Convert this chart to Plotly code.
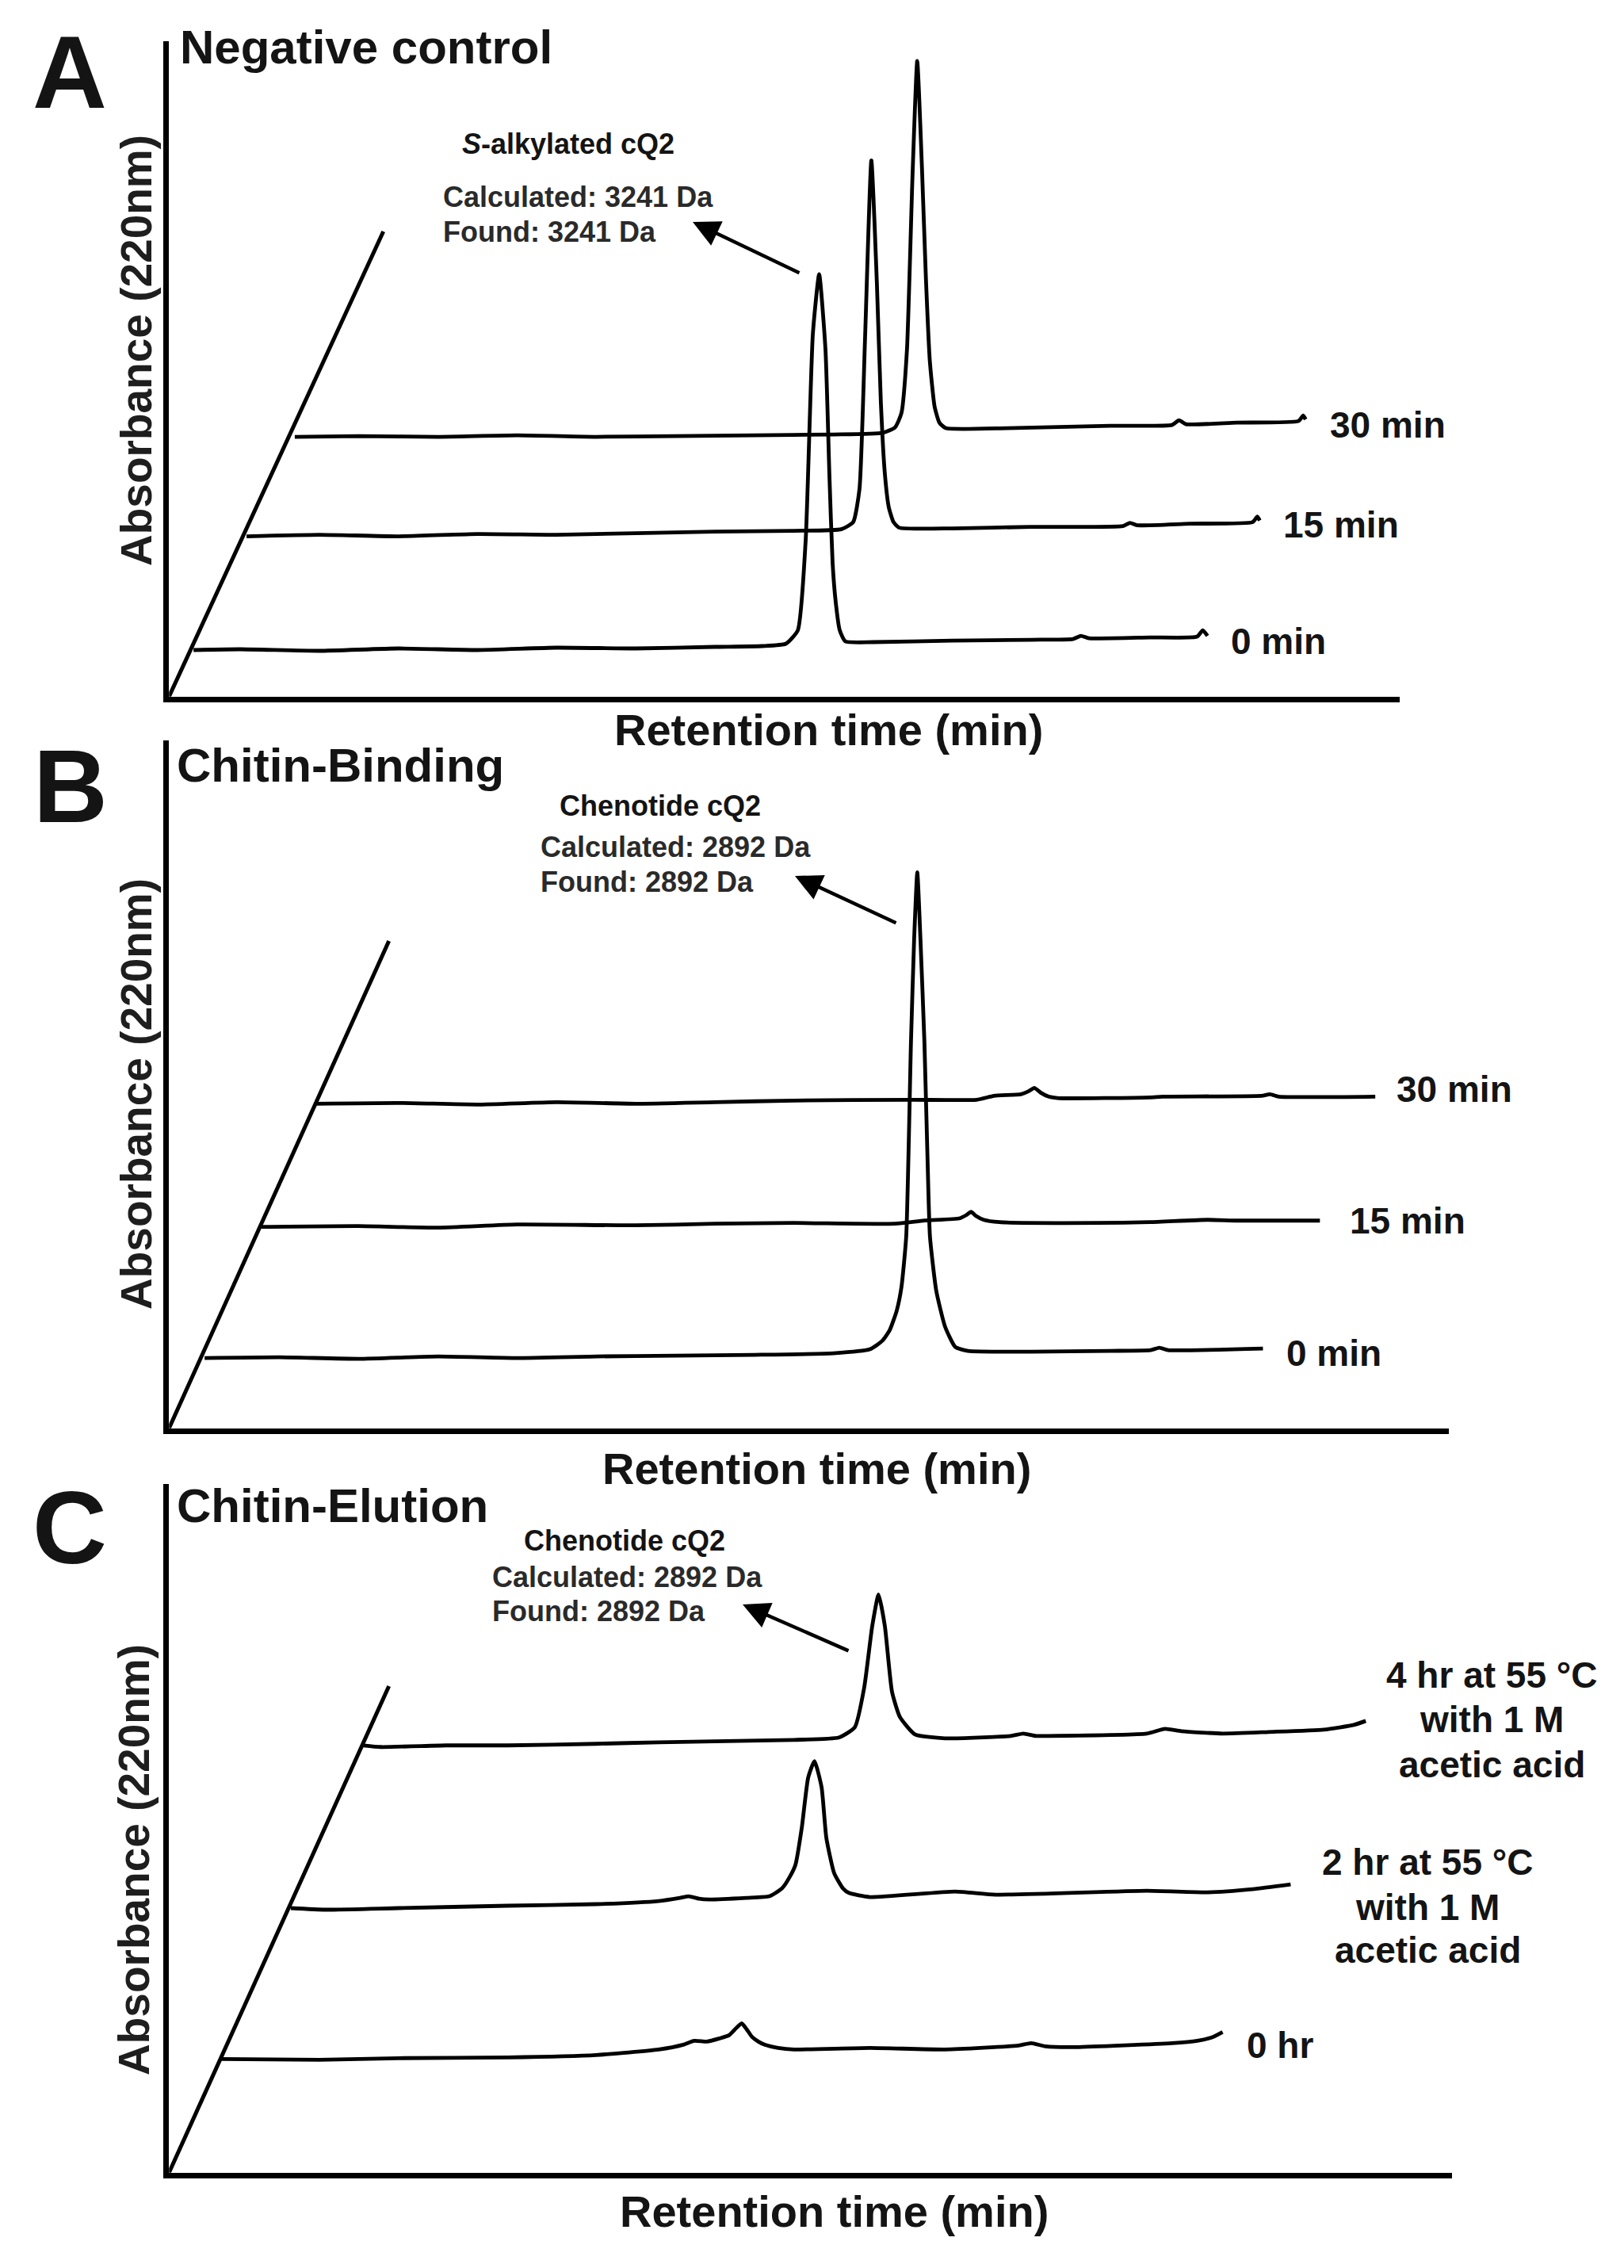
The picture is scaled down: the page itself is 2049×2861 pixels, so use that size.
import plotly.graph_objects as go

# ---------------- text ----------------
PANEL_LETTERS = ["A", "B", "C"]
PANEL_TITLES = ["Negative control", "Chitin-Binding", "Chitin-Elution"]
X_TITLE = "Retention time (min)"
Y_TITLE = "Absorbance (220nm)"
PEAK_NAMES = ["<i>S</i>-alkylated cQ2", "Chenotide cQ2", "Chenotide cQ2"]
CALC_MASS = ["Calculated: 3241 Da", "Calculated: 2892 Da", "Calculated: 2892 Da"]
FOUND_MASS = ["Found: 3241 Da", "Found: 2892 Da", "Found: 2892 Da"]
A_LABELS = [["0 min"], ["15 min"], ["30 min"]]
B_LABELS = [["0 min"], ["15 min"], ["30 min"]]
C_LABELS = [["0 hr"],
            ["2 hr at 55 °C", "with 1 M", "acetic acid"],
            ["4 hr at 55 °C", "with 1 M", "acetic acid"]]

# ---------------- data (retention time in min, absorbance in mAU) ----------------
A_RT_0 = [0, 2.95, 7.95, 12.95, 17.95, 22.95, 27.95, 32.95, 35.95, 37.45,
          38.2, 38.7, 39.15, 39.55, 39.95, 40.2, 40.4, 40.6, 40.85, 41.2,
          42.95, 47.95, 52.95, 55.6, 56.1, 56.6, 60.45, 63.45, 63.8, 64.1]
A_ABS_0 = [0, 0.5, -0.5, 1, 0, 1.5, 1, 2, 2.5, 4,
           12.5, 70, 200, 238, 190, 110, 55, 30, 12.5, 5.5,
           5, 6, 6.5, 7, 9, 7.5, 8, 8.5, 12.5, 9]
A_RT_15 = [0, 4.6, 9.6, 14.6, 19.6, 24.6, 29.6, 34.6, 37.6, 38.35,
           38.75, 39.1, 39.5, 39.85, 40.1, 40.35, 40.6, 40.9, 41.25, 44.6,
           49.6, 55.4, 55.85, 56.3, 59.6, 63.6, 63.9, 64.05]
A_ABS_15 = [0, 1, 0, 1.5, 1, 2, 3, 3.5, 4.5, 9,
            30, 125, 238, 160, 85, 40, 18.5, 9, 5.5, 5,
            6, 6.5, 8.5, 7, 8, 9, 12.5, 10]
A_RT_30 = [0, 4.05, 9.05, 14.05, 19.05, 24.05, 29.05, 34.05, 37.15, 37.95,
           38.35, 38.7, 39.05, 39.35, 39.65, 39.9, 40.15, 40.45, 40.75, 41.15,
           45.05, 51.55, 55.45, 55.9, 56.35, 59.55, 63.45, 63.75, 63.9]
A_ABS_30 = [0, 0.5, 0, 1, 0, 0.5, 1, 1.5, 2.5, 6,
            15, 55, 165, 238, 170, 100, 47.5, 19, 9, 5.5,
            5.5, 7, 7.5, 10.5, 8, 9, 10, 13.5, 11]

B_RT_0 = [0, 4.75, 9.75, 14.75, 19.75, 24.75, 29.75, 34.75, 39.75, 42.05,
          42.85, 43.3, 43.75, 44.05, 44.35, 44.65, 44.85, 45.05, 45.25, 45.5,
          45.7, 45.85, 46.25, 46.8, 47.45, 48.25, 52.25, 57.25, 59.8, 60.35,
          60.9, 66.9]
B_ABS_0 = [0, 0.5, -0.5, 1, 0, 1, 1.5, 2, 3, 5.5,
           11, 17.5, 30, 45, 77, 200, 265, 307.5, 265, 200,
           125, 77, 42.5, 20, 7, 4.5, 4, 4.5, 5, 6.5,
           5, 6]
B_RT_15 = [0, 6.15, 11.15, 16.15, 23.65, 28.65, 33.65, 40.05, 41.9, 44.15,
           44.55, 44.85, 45.15, 45.65, 46.65, 52.8, 56.15, 59.8, 61.65, 66.9]
B_ABS_15 = [0, 0.5, -0.5, 1.5, 1, 2, 2.5, 2, 4, 5.5,
            7.5, 9.5, 7, 4.5, 3, 2.5, 3, 4.5, 4, 4]
B_RT_30 = [0, 5.25, 10.25, 15.25, 20.25, 25.25, 30.25, 37.75, 41.8, 42.9,
           44.6, 45.1, 45.45, 45.85, 46.35, 47, 52.75, 53.55, 59.8, 60.35,
           60.9, 67]
B_ABS_30 = [0, 0.5, -0.5, 1, 0, 1, 2, 2.5, 2.5, 5,
            6, 8, 10, 7, 4.5, 3.5, 4, 4.5, 5, 6,
            4.5, 4.5]

C_RT_0 = [0, 6.2, 11.2, 18.1, 23.7, 27.65, 29.2, 29.9, 30.7, 31.5,
          32.1, 32.45, 32.9, 33.2, 33.55, 33.95, 34.35, 35.2, 36.2, 41,
          45.75, 50.4, 51.2, 52.1, 54.05, 60.1, 61.7, 62.7, 63.3]
C_ABS_0 = [0, -0.5, 0.5, 1, 2.5, 6, 9, 11.5, 11, 13,
           15, 18.5, 22.5, 19, 14, 11, 9, 7, 6, 7,
           6, 8.5, 10, 8, 7.5, 10, 11.5, 14, 17]
C_RT_2 = [0, 2.2, 6.8, 13.7, 19.3, 23.25, 24.6, 25.15, 25.8, 26.45,
          28.8, 30.25, 31.05, 31.55, 31.9, 32.3, 32.7, 33.1, 33.55, 33.85,
          34.35, 34.9, 35.3, 36.6, 42, 44.55, 54.1, 57.95, 60.8, 63.2]
C_ABS_2 = [0, -1, 0, 1.5, 2.5, 4.5, 6.5, 7.5, 6, 5.5,
           6.5, 7.5, 12.5, 20, 27.5, 51, 82.5, 93, 76.5, 44.5,
           22, 12.5, 9.5, 7, 10.5, 8.5, 11, 10, 12, 15]
C_RT_4 = [0, 1.1, 5.2, 9.1, 14.7, 18.65, 27.2, 30.05, 31.05, 31.65,
          32.15, 32.55, 32.95, 33.4, 33.9, 34.85, 36.75, 40.9, 41.7, 42.5,
          43.15, 49.5, 50.65, 51.7, 54.3, 57.2, 60.7, 62.6, 63.35]
C_ABS_4 = [0, -1, 0, 0, 1, 2, 3.5, 5, 11.5, 37,
           75.5, 95.5, 75.5, 34, 18, 7, 4.5, 6, 7.5, 6,
           6, 7.5, 10.5, 9, 7.5, 8.5, 10, 13, 15.5]

SERIES = [
    [(A_RT_0, A_ABS_0), (A_RT_15, A_ABS_15), (A_RT_30, A_ABS_30)],
    [(B_RT_0, B_ABS_0), (B_RT_15, B_ABS_15), (B_RT_30, B_ABS_30)],
    [(C_RT_0, C_ABS_0), (C_RT_2, C_ABS_2), (C_RT_4, C_ABS_4)],
]
LABELS = [A_LABELS, B_LABELS, C_LABELS]

# ---------------- layout (pixel geometry of the page) ----------------
W, H, M = 2033, 2845, 8          # figure size; body margin of the page
PX_PER_MIN = 20.0
PX_PER_MAU = 2.0
AX_LW = 6.5
DIAG_LW = 5
TRACE_LW = 4.8
FONT = "Liberation Sans, Arial, Helvetica, sans-serif"
TXT = "#141414"
TXT2 = "#2a2a2a"

PANELS = [
    dict(origin=(210, 882), right=1766, top=52, diag=(481, 293),
         starts=[(241, 823), (308, 679), (369, 553)],
         letter=(88, 91), title=(226, 59),
         name=(582, 182), calc=(558, 248), found=(558, 292),
         arrow=((874, 280), (1010, 345)),
         ytitle=(172, 442), xtitle=(1045, 921),
         labels=[[(1552, 809, "left")], [(1618, 662, "left")], [(1677, 536, "left")]]),
    dict(origin=(210, 1805), right=1828, top=934, diag=(488, 1188),
         starts=[(255, 1716), (327, 1550), (395, 1394)],
         letter=(89, 992), title=(222, 965),
         name=(705, 1016), calc=(681, 1068), found=(681, 1112),
         arrow=((1003, 1105), (1132, 1165)),
         ytitle=(172, 1380), xtitle=(1030, 1852),
         labels=[[(1622, 1707, "left")], [(1702, 1540, "left")], [(1761, 1374, "left")]]),
    dict(origin=(210, 2744), right=1832, top=1872, diag=(488, 2128),
         starts=[(276, 2600), (364, 2409), (456, 2203)],
         letter=(88, 1927), title=(222, 1900),
         name=(660, 1943), calc=(620, 1990), found=(620, 2032),
         arrow=((937, 2024), (1072, 2083)),
         ytitle=(169, 2346), xtitle=(1052, 2789),
         labels=[[(1572, 2580, "left")],
                 [(1801, 2349, "center"), (1801, 2406, "center"), (1801, 2460, "center")],
                 [(1882, 2113, "center"), (1882, 2169, "center"), (1882, 2226, "center")]]),
]


def fx(x):
    return (x - M) / W


def fy(y):
    return 1 - (y - M) / H


fig = go.Figure()
annotations = []
layout_axes = {}


def text_ann(s, x, y, size, bold=False, xanchor="left", angle=0, color=TXT):
    return dict(text=f"<b>{s}</b>" if bold else s, x=fx(x), y=fy(y),
                xref="paper", yref="paper", xanchor=xanchor, yanchor="middle",
                showarrow=False, textangle=angle, borderpad=0,
                font=dict(size=size, color=color, family=FONT))


for i, p in enumerate(PANELS):
    sfx = "" if i == 0 else str(i + 1)
    xa, ya = "x" + sfx, "y" + sfx
    ox, oy = p["origin"]
    xr = (p["right"] - ox) / PX_PER_MIN
    yr = (oy - p["top"]) / PX_PER_MAU
    layout_axes["xaxis" + sfx] = dict(
        domain=[fx(ox + AX_LW / 2), fx(p["right"])], range=[0, xr], anchor=ya,
        showline=True, linecolor="black", linewidth=AX_LW, showgrid=False,
        zeroline=False, showticklabels=False, ticks="", fixedrange=True)
    layout_axes["yaxis" + sfx] = dict(
        domain=[fy(oy - AX_LW / 2), fy(p["top"])], range=[0, yr], anchor=xa,
        showline=True, linecolor="black", linewidth=AX_LW, showgrid=False,
        zeroline=False, showticklabels=False, ticks="", fixedrange=True)

    # diagonal (sample / time) axis
    dx_top = (p["diag"][0] - ox) / PX_PER_MIN
    dy_top = (oy - p["diag"][1]) / PX_PER_MAU
    fig.add_trace(go.Scatter(x=[0, dx_top], y=[0, dy_top], mode="lines",
                             line=dict(color="black", width=DIAG_LW),
                             xaxis=xa, yaxis=ya, hoverinfo="skip", showlegend=False))

    # chromatograms, each offset along the diagonal axis
    for k, (rt, ab) in enumerate(SERIES[i]):
        sx, sy = p["starts"][k]
        off_x = (sx - ox) / PX_PER_MIN
        off_y = (oy - sy) / PX_PER_MAU
        fig.add_trace(go.Scatter(
            x=[r + off_x for r in rt], y=[a + off_y for a in ab], mode="lines",
            line=dict(color="black", width=TRACE_LW, shape="spline", smoothing=0.5),
            xaxis=xa, yaxis=ya, showlegend=False))
        for line_txt, (lx, ly, anc) in zip(LABELS[i][k], p["labels"][k]):
            annotations.append(text_ann(line_txt, lx, ly, 46, bold=True, xanchor=anc))

    # texts
    annotations.append(text_ann(PANEL_LETTERS[i], p["letter"][0], p["letter"][1], 130,
                                bold=True, xanchor="center"))
    annotations.append(text_ann(PANEL_TITLES[i], p["title"][0], p["title"][1], 60, bold=True))
    annotations.append(text_ann(PEAK_NAMES[i], p["name"][0], p["name"][1], 36, bold=True))
    annotations.append(text_ann(CALC_MASS[i], p["calc"][0], p["calc"][1], 36, bold=True,
                                color=TXT2))
    annotations.append(text_ann(FOUND_MASS[i], p["found"][0], p["found"][1], 36, bold=True,
                                color=TXT2))
    annotations.append(text_ann(Y_TITLE, p["ytitle"][0], p["ytitle"][1], 55, bold=True,
                                xanchor="center", angle=-90, color="#1e1e1e"))
    annotations.append(text_ann(X_TITLE, p["xtitle"][0], p["xtitle"][1], 56,
                                bold=True, xanchor="center"))
    (hx, hy), (tx, ty) = p["arrow"]
    annotations.append(dict(text="", x=fx(hx), y=fy(hy), xref="paper", yref="paper",
                            ax=tx - hx, ay=ty - hy, showarrow=True, arrowhead=2,
                            arrowsize=1.5, arrowwidth=4.5, arrowcolor="black"))

fig.update_layout(width=W, height=H, margin=dict(l=0, r=0, t=0, b=0),
                  paper_bgcolor="white", plot_bgcolor="white",
                  annotations=annotations, showlegend=False, **layout_axes)

fig.write_html("out.html")
